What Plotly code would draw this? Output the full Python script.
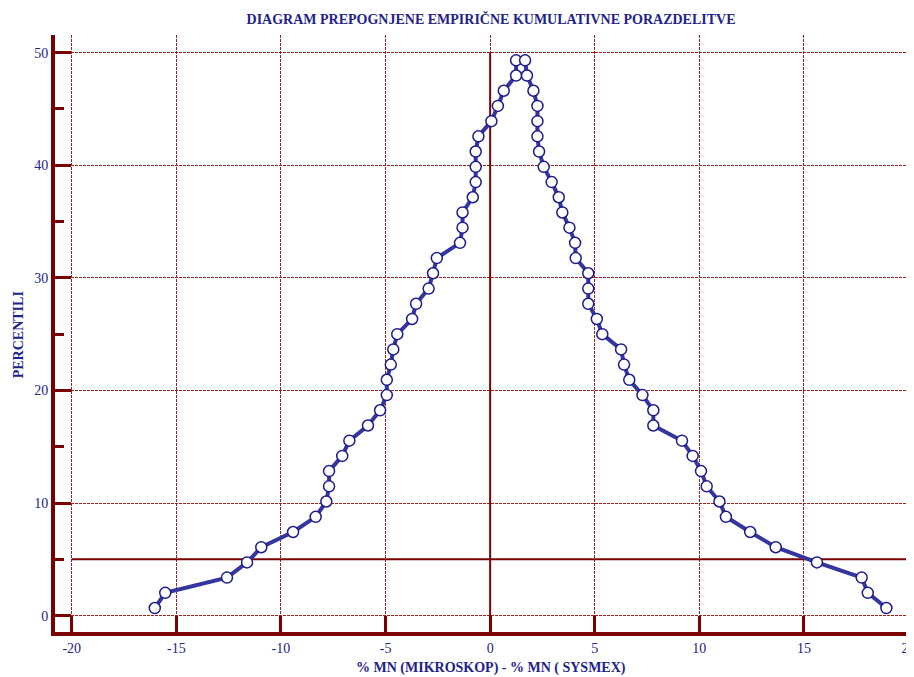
import plotly.graph_objects as go

# Folded empirical cumulative distribution: sorted differences (x) and folded percentiles (y)
differences = [
    -16.03, -15.53, -12.58, -11.62, -10.94, -9.42, -8.34, -7.83, -7.70, -7.70,
    -7.07, -6.73, -5.84, -5.26, -4.94, -4.94, -4.75, -4.63, -4.44, -3.73,
    -3.54, -2.94, -2.73, -2.55, -1.44, -1.32, -1.32, -0.83, -0.69, -0.69,
    -0.69, -0.56, 0.06, 0.37, 0.65, 1.24, 1.24,
    1.67, 1.76, 2.07, 2.26, 2.26, 2.26, 2.34, 2.56, 2.94, 3.28,
    3.45, 3.79, 4.06, 4.09, 4.69, 4.69, 4.69, 5.10, 5.36, 6.26,
    6.40, 6.65, 7.28, 7.80, 7.80, 9.17, 9.68, 10.08, 10.35, 10.96,
    11.27, 12.43, 13.65, 15.62, 17.76, 18.05, 18.94,
]
percentiles = [
    0.68, 2.03, 3.38, 4.73, 6.08, 7.43, 8.78, 10.14, 11.49, 12.84,
    14.19, 15.54, 16.89, 18.24, 19.59, 20.95, 22.30, 23.65, 25.00, 26.35,
    27.70, 29.05, 30.41, 31.76, 33.11, 34.46, 35.81, 37.16, 38.51, 39.86,
    41.22, 42.57, 43.92, 45.27, 46.62, 47.97, 49.32,
    49.32, 47.97, 46.62, 45.27, 43.92, 42.57, 41.22, 39.86, 38.51, 37.16,
    35.81, 34.46, 33.11, 31.76, 30.41, 29.05, 27.70, 26.35, 25.00, 23.65,
    22.30, 20.95, 19.59, 18.24, 16.89, 15.54, 14.19, 12.84, 11.49, 10.14,
    8.78, 7.43, 6.08, 4.73, 3.38, 2.03, 0.68,
]
x_ticks = [-20, -15, -10, -5, 0, 5, 10, 15, 20]
y_ticks = [0, 10, 20, 30, 40, 50]
reference_level = 5
title_text = "DIAGRAM PREPOGNJENE EMPIRIČNE KUMULATIVNE PORAZDELITVE"
x_title = "% MN (MIKROSKOP) - % MN ( SYSMEX)"
y_title = "PERCENTILI"

DARK_RED = "#7c0000"
GRID_RED = "#a02020"
NAVY = "#22228c"
LINE_BLUE = "#3535a0"
FONT = "Liberation Serif, Times New Roman, serif"

# the page body has an 8px default margin; the figure is sized to fill the rest
FIG_W, FIG_H = 906, 669

fig = go.Figure()
fig.add_trace(go.Scatter(
    x=differences, y=percentiles, mode="lines+markers",
    line=dict(color=LINE_BLUE, width=4),
    marker=dict(symbol="circle", size=11, color="white",
                line=dict(color="#1c1c8e", width=1.5)),
    showlegend=False, hoverinfo="x+y",
))

# reference lines
fig.add_shape(type="line", xref="x", yref="y", x0=0, x1=0, y0=-1.45, y1=50,
              line=dict(color=DARK_RED, width=2), layer="between")
fig.add_shape(type="line", xref="x", yref="y", x0=-20, x1=20,
              y0=reference_level, y1=reference_level,
              line=dict(color=DARK_RED, width=2), layer="between")

axis_common = dict(
    showline=True, linecolor=DARK_RED, linewidth=4, mirror=False,
    ticks="inside", ticklen=16, tickwidth=3, tickcolor=DARK_RED,
    showgrid=True, gridcolor=GRID_RED, gridwidth=1, griddash="3px,1px",
    zeroline=False, automargin=False, ticklabeloverflow="allow",
    tickfont=dict(family=FONT, size=14, color=NAVY),
)

fig.update_xaxes(range=[-20.80, 20.26], tickmode="array", tickvals=x_ticks,
                 ticktext=[str(v) for v in x_ticks], **axis_common)
fig.update_yaxes(range=[-1.45, 51.57], tickmode="array", tickvals=y_ticks,
                 ticktext=[str(v) for v in y_ticks],
                 minor=dict(tickmode="array", tickvals=[5, 15, 25, 35, 45],
                            ticks="inside", ticklen=9, tickwidth=3,
                            tickcolor=DARK_RED, showgrid=False),
                 **axis_common)

fig.update_layout(
    width=FIG_W, height=FIG_H,
    margin=dict(l=47, r=0, t=27, b=45, autoexpand=False),
    paper_bgcolor="white", plot_bgcolor="white",
    title=dict(text="<b>" + title_text + "</b>", xref="paper", x=0.5076,
               xanchor="center", yref="container", y=1 - 11 / FIG_H,
               yanchor="middle",
               font=dict(family=FONT, size=14, color=NAVY)),
    annotations=[
        dict(text="<b>" + x_title + "</b>", xref="x", x=0.05, yref="paper", y=0,
             yanchor="middle", xanchor="center", yshift=-36, showarrow=False,
             font=dict(family=FONT, size=14, color=NAVY)),
        dict(text="<b>" + y_title + "</b>", xref="paper", x=0, xshift=-37,
             yref="y", y=24.9, xanchor="center", yanchor="middle",
             textangle=-90, showarrow=False,
             font=dict(family=FONT, size=14, color=NAVY)),
    ],
)

fig.write_html("out.html")
